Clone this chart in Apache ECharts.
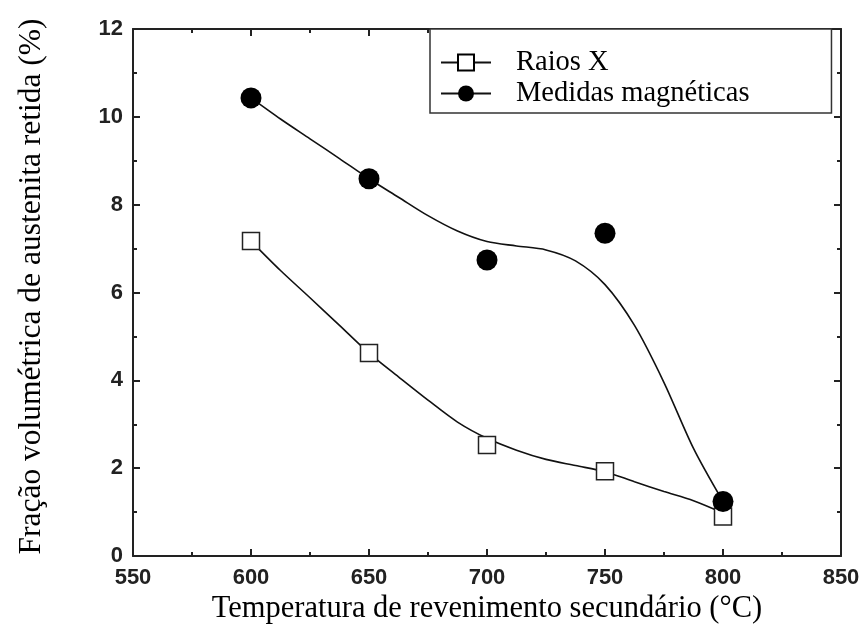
<!DOCTYPE html>
<html>
<head>
<meta charset="utf-8">
<script src="https://cdn.jsdelivr.net/npm/echarts@6/dist/echarts.min.js"></script>
<style>
html,body{margin:0;padding:0;background:#fff;}
#chart{width:867px;height:643px;}
</style>
</head>
<body>
<div id="chart"></div>
<script>
// Measured points
const temperatures = [600, 650, 700, 750, 800];
const raiosX = [7.17, 4.62, 2.53, 1.93, 0.90];
const medidasMagneticas = [10.43, 8.59, 6.74, 7.35, 1.24];

// Fitted curves
const fitT = [600, 612.5, 625, 637.5, 650, 662.5, 675, 687.5, 700, 712.5, 725, 737.5, 750, 762.5, 775, 787.5, 800];
const raiosFitV = [7.17, 6.50, 5.88, 5.25, 4.62, 4.08, 3.55, 3.05, 2.68, 2.41, 2.20, 2.06, 1.92, 1.69, 1.47, 1.26, 0.98];
const magFitV = [10.43, 9.95, 9.50, 9.05, 8.59, 8.17, 7.75, 7.40, 7.16, 7.06, 6.97, 6.72, 6.18, 5.25, 3.95, 2.45, 1.24];

// Axis settings
const xMin = 550, xMax = 850, xStep = 50, xMinorStep = 25;
const yMin = 0, yMax = 12, yStep = 2, yMinorStep = 1;

const legendNames = ['Raios X', 'Medidas magnéticas'];

const pairs = (xs, ys) => xs.map((x, i) => [x, ys[i]]);

function makeAxis(min, max, step, position, tickLen, showLine, extra) {
  return Object.assign({
    type: 'value', min: min, max: max, interval: step, position: position,
    axisLine: { show: showLine, onZero: false, lineStyle: { color: '#222', width: 2 } },
    axisTick: { show: true, inside: true, length: tickLen, lineStyle: { color: '#222', width: 2 } },
    axisLabel: { show: false },
    splitLine: { show: false }
  }, extra || {});
}
const labelStyle = { show: true, fontFamily: 'Liberation Sans', fontWeight: 'bold', fontSize: 22, color: '#222' };

const chart = echarts.init(document.getElementById('chart'));
chart.setOption({
  backgroundColor: '#fff',
  animation: false,
  grid: { left: 133, right: 26, top: 29, bottom: 87, containLabel: false },
  xAxis: [
    makeAxis(xMin, xMax, xStep, 'bottom', 7, true, {
      name: 'Temperatura de revenimento secundário (°C)',
      nameLocation: 'middle', nameGap: 33,
      nameTextStyle: { fontFamily: 'Liberation Serif', fontSize: 30.5, color: '#000' },
      axisLabel: Object.assign({ margin: 11 }, labelStyle)
    }),
    makeAxis(xMin, xMax, xStep, 'top', 7, true),
    makeAxis(xMin, xMax, xMinorStep, 'bottom', 4, false),
    makeAxis(xMin, xMax, xMinorStep, 'top', 4, false)
  ],
  yAxis: [
    makeAxis(yMin, yMax, yStep, 'left', 7, true, {
      name: 'Fração volumétrica de austenita retida (%)',
      nameLocation: 'middle', nameGap: 85,
      nameTextStyle: { fontFamily: 'Liberation Serif', fontSize: 31.5, color: '#000', padding: [0, 0, 0, 12] },
      axisLabel: Object.assign({ margin: 10 }, labelStyle)
    }),
    makeAxis(yMin, yMax, yStep, 'right', 7, true),
    makeAxis(yMin, yMax, yMinorStep, 'left', 4, false),
    makeAxis(yMin, yMax, yMinorStep, 'right', 4, false)
  ],
  legend: {
    data: legendNames,
    orient: 'vertical',
    left: 430, top: 29,
    padding: [19, 82, 5, 10],
    itemGap: 2,
    itemWidth: 50, itemHeight: 20,
    borderColor: '#333', borderWidth: 1.5,
    backgroundColor: '#fff',
    textStyle: { fontFamily: 'Liberation Serif', fontSize: 28.5, color: '#000', lineHeight: 28, padding: [0, 0, 0, 20] }
  },
  series: [
    {
      name: legendNames[0], type: 'line', smooth: 0.3,
      data: pairs(fitT, raiosFitV),
      showSymbol: false, symbol: 'emptyRect', symbolSize: 16,
      color: '#000',
      lineStyle: { color: '#111', width: 1.6 },
      z: 2
    },
    {
      name: legendNames[1], type: 'line', smooth: 0.3,
      data: pairs(fitT, magFitV),
      showSymbol: false, symbol: 'circle', symbolSize: 16,
      color: '#000',
      lineStyle: { color: '#111', width: 1.6 },
      z: 2
    },
    {
      name: 'Raios X (pontos)', type: 'scatter',
      data: pairs(temperatures, raiosX),
      symbol: 'rect', symbolSize: 17,
      itemStyle: { color: '#fff', borderColor: '#222', borderWidth: 1.5, opacity: 1 },
      z: 3
    },
    {
      name: 'Medidas magnéticas (pontos)', type: 'scatter',
      data: pairs(temperatures, medidasMagneticas),
      symbol: 'circle', symbolSize: 21,
      itemStyle: { color: '#000', opacity: 1 },
      z: 4
    }
  ]
});
</script>
</body>
</html>
